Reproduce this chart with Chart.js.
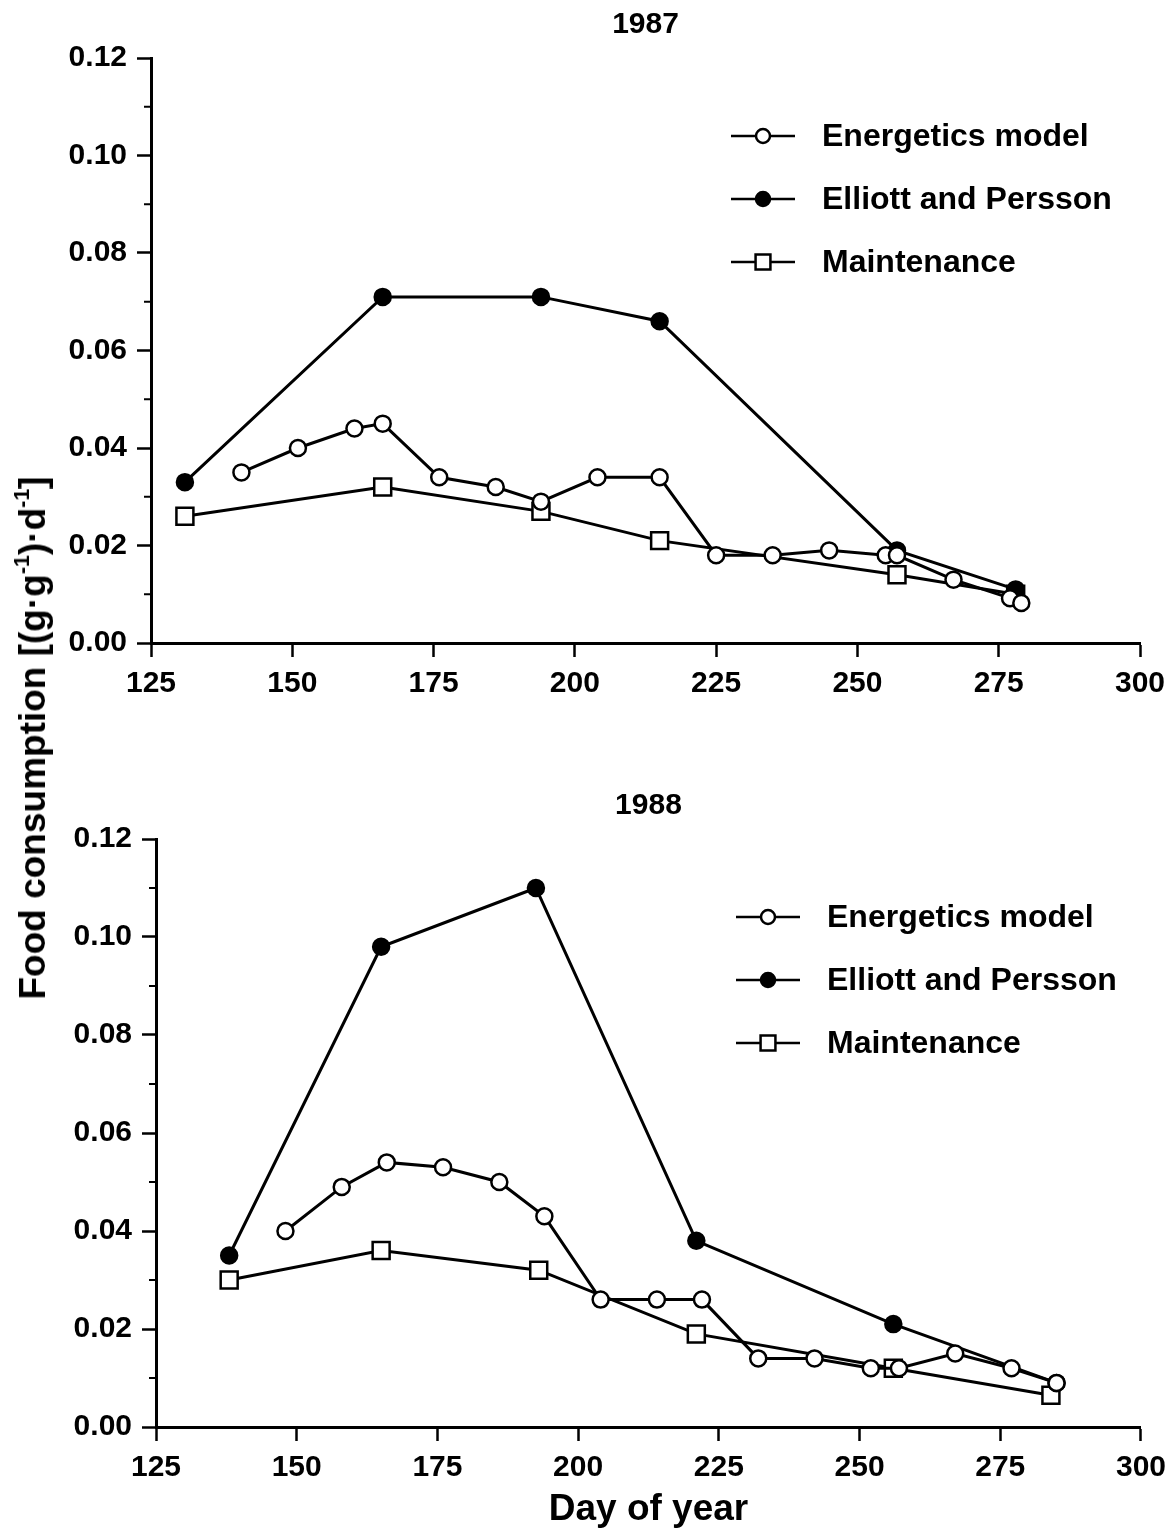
<!DOCTYPE html>
<html>
<head>
<meta charset="utf-8">
<script src="https://cdn.jsdelivr.net/npm/chart.js@4.4.1/dist/chart.umd.min.js"></script>
<style>
  html, body { margin: 0; padding: 0; background: #fff; }
  #page { position: relative; width: 1175px; height: 1532px; overflow: hidden; }
  #chart1987 { position: absolute; left: 0; top: 0; }
  #chart1988 { position: absolute; left: 0; top: 760px; }
  #ytitle {
    position: absolute; left: 33px; top: 738px;
    transform: translate(-50%, -50%) rotate(-90deg);
    white-space: nowrap; color: #000;
    font: bold 37px "Liberation Sans", Arial, sans-serif;
  }
  #ytitle sup { font-size: 58%; vertical-align: 0.75em; line-height: 0; }
</style>
</head>
<body>
<div id="page">
  <canvas id="chart1987" width="1175" height="730"></canvas>
  <canvas id="chart1988" width="1175" height="772"></canvas>
  <div id="ytitle">Food consumption [(g·g<sup>-1</sup>)·d<sup>-1</sup>]</div>
</div>
<script>
// 1987 season
const days1987Energetics = [141, 151, 161, 166, 176, 186, 194, 204, 215, 225, 235, 245, 255, 257, 267, 277, 279];
const cons1987Energetics = [0.035, 0.040, 0.044, 0.045, 0.034, 0.032, 0.029, 0.034, 0.034, 0.018, 0.018, 0.019, 0.018, 0.018, 0.013, 0.0092, 0.0082];
const days1987Elliott = [131, 166, 194, 215, 257, 278];
const cons1987Elliott = [0.033, 0.071, 0.071, 0.066, 0.019, 0.011];
const days1987Maint = [131, 166, 194, 215, 257, 278];
const cons1987Maint = [0.026, 0.032, 0.027, 0.021, 0.014, 0.010];

// 1988 season
const days1988Energetics = [148, 158, 166, 176, 186, 194, 204, 214, 222, 232, 242, 252, 257, 267, 277, 285];
const cons1988Energetics = [0.040, 0.049, 0.054, 0.053, 0.050, 0.043, 0.026, 0.026, 0.026, 0.014, 0.014, 0.012, 0.012, 0.015, 0.012, 0.009];
const days1988Elliott = [138, 165, 192.5, 221, 256, 285];
const cons1988Elliott = [0.035, 0.098, 0.110, 0.038, 0.021, 0.009];
const days1988Maint = [138, 165, 193, 221, 256, 284];
const cons1988Maint = [0.030, 0.036, 0.032, 0.019, 0.012, 0.0065];

const seriesNames = ['Energetics model', 'Elliott and Persson', 'Maintenance'];
const minorTickValues = [0.01, 0.03, 0.05, 0.07, 0.09, 0.11];

const FONT = '"Liberation Sans", Arial, Helvetica, sans-serif';

function toPoints(days, values) {
    return days.map((d, i) => ({ x: d, y: values[i] }));
}

// marker look for each series: open circle, filled circle, open square
const markerStyles = [
    { pointStyle: 'circle', fill: '#fff', radius: 8, keyRadius: 7 },
    { pointStyle: 'circle', fill: '#000', radius: 8, keyRadius: 7 },
    { pointStyle: 'rect', fill: '#fff', radius: 12, keyRadius: 10.5 }
];

function makeDataset(i, days, values) {
    const m = markerStyles[i];
    return {
        label: seriesNames[i],
        data: toPoints(days, values),
        borderColor: '#000',
        borderWidth: 3,
        tension: 0,
        pointStyle: m.pointStyle,
        pointRadius: m.radius,
        pointHoverRadius: m.radius,
        pointBackgroundColor: m.fill,
        pointBorderColor: '#000',
        pointBorderWidth: 2.5,
        keyRadius: m.keyRadius,
        clip: false
    };
}

// short unlabeled ticks between the labeled y ticks
const minorTicks = {
    id: 'minorTicks',
    afterDraw(chart) {
        const { ctx } = chart;
        const y = chart.scales.y;
        ctx.save();
        ctx.strokeStyle = '#000';
        ctx.lineWidth = 2;
        minorTickValues.forEach(v => {
            const py = y.getPixelForValue(v);
            ctx.beginPath();
            ctx.moveTo(y.right - 7, py);
            ctx.lineTo(y.right, py);
            ctx.stroke();
        });
        ctx.restore();
    }
};

// legend drawn inside the plot: line with the marker in the middle, label to the right
const keyBox = {
    id: 'keyBox',
    afterDraw(chart, args, opts) {
        const { ctx, chartArea } = chart;
        ctx.save();
        chart.data.datasets.forEach((ds, i) => {
            const x0 = chartArea.left + opts.left;
            const y = chartArea.top + opts.top + i * opts.rowGap;
            const cx = x0 + opts.lineLength / 2;
            ctx.strokeStyle = '#000';
            ctx.lineWidth = 2.5;
            ctx.beginPath();
            ctx.moveTo(x0, y);
            ctx.lineTo(x0 + opts.lineLength, y);
            ctx.stroke();

            ctx.fillStyle = ds.pointBackgroundColor;
            ctx.beginPath();
            if (ds.pointStyle === 'rect') {
                const s = ds.keyRadius * Math.SQRT1_2;
                ctx.rect(cx - s, y - s, 2 * s, 2 * s);
            } else {
                ctx.arc(cx, y, ds.keyRadius, 0, Math.PI * 2);
            }
            ctx.fill();
            ctx.stroke();

            ctx.fillStyle = '#000';
            ctx.font = 'bold 32px ' + FONT;
            ctx.textBaseline = 'middle';
            ctx.textAlign = 'left';
            ctx.fillText(ds.label, x0 + opts.textOffset, y + 1);
        });
        ctx.restore();
    }
};

function makeChart(canvasId, title, datasets, cfg) {
    const ctx = document.getElementById(canvasId).getContext('2d');
    return new Chart(ctx, {
        type: 'line',
        data: { datasets: datasets },
        plugins: [minorTicks, keyBox],
        options: {
            responsive: false,
            animation: false,
            events: [],
            layout: { padding: cfg.padding },
            scales: {
                x: {
                    type: 'linear',
                    min: 125,
                    max: 300,
                    afterFit(scale) { scale.height = cfg.xHeight; },
                    ticks: {
                        stepSize: 25,
                        color: '#000',
                        padding: 9,
                        font: { family: FONT, size: 30, weight: 'bold' }
                    },
                    grid: {
                        drawOnChartArea: false,
                        drawTicks: true,
                        tickLength: 14,
                        tickWidth: 2.5,
                        tickColor: '#000'
                    },
                    border: { display: true, color: '#000', width: 3 },
                    title: {
                        display: !!cfg.xTitle,
                        text: cfg.xTitle || '',
                        color: '#000',
                        padding: { top: 0, bottom: 0 },
                        font: { family: FONT, size: 37, weight: 'bold' }
                    }
                },
                y: {
                    min: 0,
                    max: 0.12,
                    afterFit(scale) { scale.width = 110; },
                    ticks: {
                        stepSize: 0.02,
                        color: '#000',
                        padding: 10,
                        callback: v => v.toFixed(2),
                        font: { family: FONT, size: 30, weight: 'bold' }
                    },
                    grid: {
                        drawOnChartArea: false,
                        drawTicks: true,
                        tickLength: 14,
                        tickWidth: 2.5,
                        tickColor: '#000'
                    },
                    border: { display: true, color: '#000', width: 3 }
                }
            },
            plugins: {
                legend: { display: false },
                tooltip: { enabled: false },
                title: {
                    display: true,
                    text: title,
                    fullSize: false,
                    color: '#000',
                    padding: cfg.titlePadding,
                    font: { family: FONT, size: 30, weight: 'bold' }
                },
                keyBox: { left: 580, top: 78, rowGap: 63, lineLength: 64, textOffset: 91 }
            }
        }
    });
}

makeChart('chart1987', '1987', [
    makeDataset(0, days1987Energetics, cons1987Energetics),
    makeDataset(1, days1987Elliott, cons1987Elliott),
    makeDataset(2, days1987Maint, cons1987Maint)
], {
    padding: { left: 41, right: 35, top: 0, bottom: 17 },
    titlePadding: { top: 7, bottom: 15 },
    xHeight: 70
});

makeChart('chart1988', '1988', [
    makeDataset(0, days1988Energetics, cons1988Energetics),
    makeDataset(1, days1988Elliott, cons1988Elliott),
    makeDataset(2, days1988Maint, cons1988Maint)
], {
    padding: { left: 46, right: 31, top: 0, bottom: 0 },
    titlePadding: { top: 28, bottom: 15 },
    xHeight: 105,
    xTitle: 'Day of year'
});
</script>
</body>
</html>
